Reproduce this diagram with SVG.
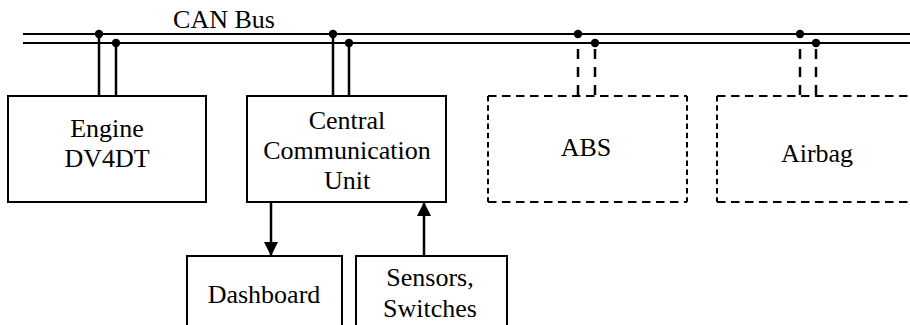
<svg xmlns="http://www.w3.org/2000/svg" width="910" height="325" viewBox="0 0 910 325" font-family="Liberation Serif, serif" font-size="26">
<style>
text{font-family:'Liberation Serif',serif;font-size:26px;fill:#000;text-anchor:middle}
.box{fill:#fff;stroke:#000;stroke-width:2}
.bus{stroke:#000;stroke-width:2;fill:none}
.wire{stroke:#000;stroke-width:2.5;fill:none}
.dwire{stroke:#000;stroke-width:2.5;fill:none;stroke-dasharray:10 8}
.dh{stroke:#000;stroke-width:2;fill:none;stroke-dasharray:8.5 5.5}
.dv{stroke:#000;stroke-width:2;fill:none;stroke-dasharray:5.5 3.7}
.dot{fill:#000}
</style>
<defs>
<marker id="arr" viewBox="0 0 14 14" refX="14" refY="7" markerWidth="14" markerHeight="14" markerUnits="userSpaceOnUse" orient="auto">
<path d="M0,0 L14,7 L0,14 Z" fill="#000"/>
</marker>
</defs>
<g id="connectors">
<line class="bus" x1="23" y1="34" x2="910" y2="34"/>
<line class="bus" x1="23" y1="43" x2="910" y2="43"/>
<line class="wire" x1="99" y1="34" x2="99" y2="96"/>
<line class="wire" x1="116" y1="43" x2="116" y2="96"/>
<line class="wire" x1="333" y1="34" x2="333" y2="96"/>
<line class="wire" x1="349" y1="43" x2="349" y2="96"/>
<line class="dwire" x1="578" y1="49" x2="578" y2="96"/>
<line class="dwire" x1="595" y1="49" x2="595" y2="96"/>
<line class="dwire" x1="800" y1="49" x2="800" y2="96"/>
<line class="dwire" x1="816" y1="49" x2="816" y2="96"/>
<circle class="dot" cx="99" cy="34" r="4.2"/>
<circle class="dot" cx="116" cy="43" r="4.2"/>
<circle class="dot" cx="333" cy="34" r="4.2"/>
<circle class="dot" cx="349" cy="43" r="4.2"/>
<circle class="dot" cx="578" cy="34" r="4.2"/>
<circle class="dot" cx="595" cy="43" r="4.2"/>
<circle class="dot" cx="800" cy="34" r="4.2"/>
<circle class="dot" cx="816" cy="43" r="4.2"/>
<line class="wire" x1="271" y1="202" x2="271" y2="256" marker-end="url(#arr)"/>
<line class="wire" x1="424" y1="256" x2="424" y2="202" marker-end="url(#arr)"/>
</g>
<text x="224" y="28">CAN Bus</text>
<g id="engine">
<rect class="box" x="8" y="96" width="198" height="106"/>
<text x="107" y="137">Engine</text>
<text x="107" y="167">DV4DT</text>
</g>
<g id="ccu">
<rect class="box" x="247" y="96" width="199" height="106"/>
<text x="347" y="129">Central</text>
<text x="347" y="159">Communication</text>
<text x="347" y="189">Unit</text>
</g>
<g id="abs">
<line class="dh" x1="488" y1="96" x2="687" y2="96"/>
<line class="dh" x1="488" y1="202" x2="687" y2="202"/>
<line class="dv" x1="488" y1="96" x2="488" y2="202"/>
<line class="dv" x1="687" y1="96" x2="687" y2="202"/>
<text x="586" y="156">ABS</text>
</g>
<g id="airbag">
<line class="dh" x1="717" y1="96" x2="912" y2="96"/>
<line class="dh" x1="717" y1="202" x2="912" y2="202"/>
<line class="dv" x1="717" y1="96" x2="717" y2="202"/>
<text x="817" y="162">Airbag</text>
</g>
<g id="dashboard">
<rect class="box" x="187" y="256" width="155" height="80"/>
<text x="264" y="303">Dashboard</text>
</g>
<g id="sensors">
<rect class="box" x="356" y="256" width="151" height="80"/>
<text x="430" y="286">Sensors,</text>
<text x="430" y="317">Switches</text>
</g>
</svg>
